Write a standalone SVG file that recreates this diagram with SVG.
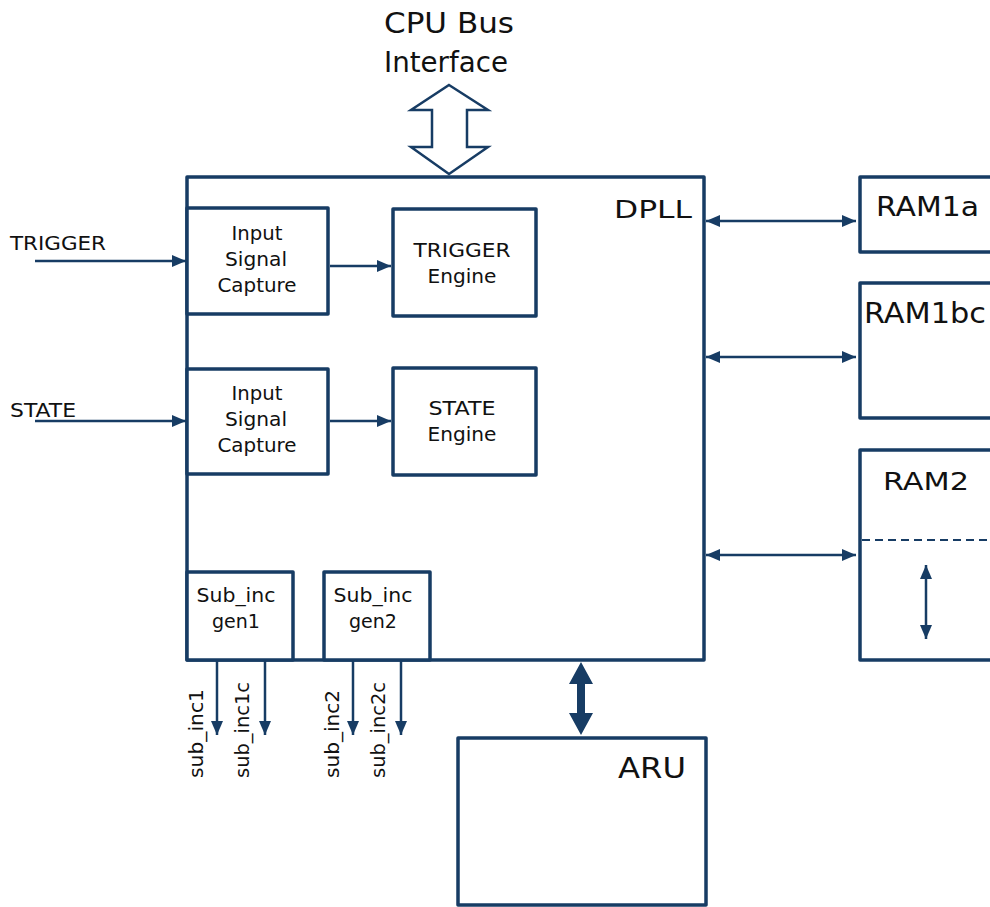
<svg xmlns="http://www.w3.org/2000/svg" width="990" height="907" viewBox="0 0 990 907">
<defs>
<style>
.box{fill:#fff;stroke:#173c64;stroke-width:3.5;stroke-linejoin:round}
.ln{fill:none;stroke:#173c64;stroke-width:2.5}
.t{font-family:"DejaVu Sans","Liberation Sans",sans-serif;fill:#111}
.s19{font-size:19px;text-anchor:middle}
.s18{font-size:19px}
</style>
<marker id="ah" viewBox="0 0 14 12" refX="14" refY="6" markerWidth="14" markerHeight="12" markerUnits="userSpaceOnUse" orient="auto-start-reverse">
<path d="M0,0 L14,6 L0,12 Z" fill="#173c64"/>
</marker>
</defs>
<rect width="990" height="907" fill="#fff"/>

<g id="cpu-bus">
<text class="t" x="384" y="33" font-size="29" textLength="130" lengthAdjust="spacingAndGlyphs">CPU Bus</text>
<text class="t" x="384" y="72" font-size="29" textLength="124" lengthAdjust="spacingAndGlyphs">Interface</text>
<polygon points="449,85 488,110 467,110 467,147 488,147 449,174 411,147 432,147 432,110 411,110" fill="#fff" stroke="#173c64" stroke-width="2.5" stroke-linejoin="miter"/>
</g>

<g id="dpll">
<rect class="box" x="187" y="177" width="517" height="483"/>
<text class="t" x="614" y="218" font-size="25" textLength="78" lengthAdjust="spacingAndGlyphs">DPLL</text>
</g>

<g id="isc1">
<rect class="box" x="187" y="208" width="141" height="106"/>
<text class="t s19" x="257" y="240" textLength="51" lengthAdjust="spacingAndGlyphs">Input</text>
<text class="t s19" x="256" y="266" textLength="62" lengthAdjust="spacingAndGlyphs">Signal</text>
<text class="t s19" x="257" y="292" textLength="79" lengthAdjust="spacingAndGlyphs">Capture</text>
</g>
<g id="isc2">
<rect class="box" x="187" y="369" width="141" height="105"/>
<text class="t s19" x="257" y="400" textLength="51" lengthAdjust="spacingAndGlyphs">Input</text>
<text class="t s19" x="256" y="426" textLength="62" lengthAdjust="spacingAndGlyphs">Signal</text>
<text class="t s19" x="257" y="452" textLength="79" lengthAdjust="spacingAndGlyphs">Capture</text>
</g>
<g id="trigger-engine">
<rect class="box" x="393" y="209" width="143" height="107"/>
<text class="t s19" x="462" y="257" textLength="97" lengthAdjust="spacingAndGlyphs">TRIGGER</text>
<text class="t s19" x="462" y="283" textLength="69" lengthAdjust="spacingAndGlyphs">Engine</text>
</g>
<g id="state-engine">
<rect class="box" x="393" y="368" width="143" height="107"/>
<text class="t s19" x="462" y="415" textLength="67" lengthAdjust="spacingAndGlyphs">STATE</text>
<text class="t s19" x="462" y="441" textLength="69" lengthAdjust="spacingAndGlyphs">Engine</text>
</g>
<g id="subinc1">
<rect class="box" x="187" y="572" width="106" height="88"/>
<text class="t s19" x="236" y="602" textLength="79" lengthAdjust="spacingAndGlyphs">Sub_inc</text>
<text class="t s19" x="236" y="628" textLength="48" lengthAdjust="spacingAndGlyphs">gen1</text>
</g>
<g id="subinc2">
<rect class="box" x="324" y="572" width="106" height="88"/>
<text class="t s19" x="373" y="602" textLength="79" lengthAdjust="spacingAndGlyphs">Sub_inc</text>
<text class="t s19" x="373" y="628" textLength="48" lengthAdjust="spacingAndGlyphs">gen2</text>
</g>

<g id="ram1a">
<rect class="box" x="860" y="177" width="140" height="75"/>
<text class="t" x="876" y="216" font-size="27" textLength="103" lengthAdjust="spacingAndGlyphs">RAM1a</text>
</g>
<g id="ram1bc">
<rect class="box" x="860" y="283" width="140" height="135"/>
<text class="t" x="864" y="323" font-size="28" textLength="122" lengthAdjust="spacingAndGlyphs">RAM1bc</text>
</g>
<g id="ram2">
<rect class="box" x="860" y="450" width="140" height="210"/>
<text class="t" x="883" y="490" font-size="25" textLength="86" lengthAdjust="spacingAndGlyphs">RAM2</text>
<line x1="862" y1="540" x2="990" y2="540" stroke="#173c64" stroke-width="2" stroke-dasharray="8,5"/>
<line class="ln" x1="926" y1="565" x2="926" y2="639" marker-start="url(#ah)" marker-end="url(#ah)"/>
</g>
<g id="aru">
<rect class="box" x="458" y="738" width="248" height="167"/>
<text class="t" x="618" y="778" font-size="28" textLength="68" lengthAdjust="spacingAndGlyphs">ARU</text>
</g>

<g id="labels">
<text class="t" x="10" y="250" font-size="19" textLength="96" lengthAdjust="spacingAndGlyphs">TRIGGER</text>
<text class="t" x="10" y="417" font-size="19" textLength="66" lengthAdjust="spacingAndGlyphs">STATE</text>
<text class="t s18" transform="translate(203,778) rotate(-90)" textLength="89" lengthAdjust="spacingAndGlyphs">sub_inc1</text>
<text class="t s18" transform="translate(249,778) rotate(-90)" textLength="96" lengthAdjust="spacingAndGlyphs">sub_inc1c</text>
<text class="t s18" transform="translate(339,778) rotate(-90)" textLength="88" lengthAdjust="spacingAndGlyphs">sub_inc2</text>
<text class="t s18" transform="translate(385,778) rotate(-90)" textLength="96" lengthAdjust="spacingAndGlyphs">sub_inc2c</text>
</g>

<g id="connectors">
<line class="ln" x1="35" y1="261" x2="186" y2="261" marker-end="url(#ah)"/>
<line class="ln" x1="35" y1="421" x2="186" y2="421" marker-end="url(#ah)"/>
<line class="ln" x1="330" y1="266" x2="391" y2="266" marker-end="url(#ah)"/>
<line class="ln" x1="330" y1="421" x2="391" y2="421" marker-end="url(#ah)"/>
<line class="ln" x1="706" y1="221" x2="856" y2="221" marker-start="url(#ah)" marker-end="url(#ah)"/>
<line class="ln" x1="706" y1="357" x2="856" y2="357" marker-start="url(#ah)" marker-end="url(#ah)"/>
<line class="ln" x1="706" y1="555" x2="856" y2="555" marker-start="url(#ah)" marker-end="url(#ah)"/>
<line class="ln" x1="217" y1="661" x2="217" y2="735" marker-end="url(#ah)"/>
<line class="ln" x1="265" y1="661" x2="265" y2="735" marker-end="url(#ah)"/>
<line class="ln" x1="353" y1="661" x2="353" y2="735" marker-end="url(#ah)"/>
<line class="ln" x1="401" y1="661" x2="401" y2="735" marker-end="url(#ah)"/>
<polygon points="581,662 593,684 585,684 585,713 593,713 581,735 569,713 577,713 577,684 569,684" fill="#173c64"/>
</g>
</svg>
